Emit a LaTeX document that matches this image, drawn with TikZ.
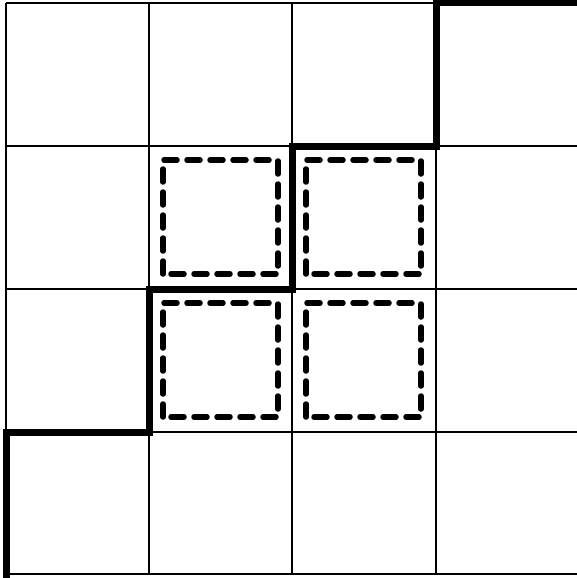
\documentclass[tikz,border=0pt]{standalone}
\begin{document}
\begin{tikzpicture}[x=1pt,y=-1pt,
  gridline/.style={line width=2.6pt,black},
  stair/.style={line width=7pt,black,line cap=rect,line join=miter},
  dashsq/.style={line width=5.5pt,black,line cap=round,dash pattern=on 13pt off 10pt}]
\useasboundingbox (0,0) rectangle (576,578);
\fill[white] (0,0) rectangle (576,578);
% grid
\foreach \x in {6,149,292,436} \draw[gridline] (\x,3) -- (\x,574);
\foreach \y in {3,146,289,432,574} \draw[gridline] (6,\y) -- (580,\y);
% staircase
\draw[stair] (6,576) -- (6,432) -- (149,432) -- (149,289) -- (292,289) -- (292,146) -- (436,146) -- (436,3) -- (580,3);
% dashed squares
\foreach \cx/\cy in {149/146,292/146,149/289,292/289}
  \draw[dashsq] (\cx+14,\cy+128) -- (\cx+14,\cy+14) -- (\cx+129,\cy+14) -- (\cx+129,\cy+128) -- cycle;
\end{tikzpicture}
\end{document}
